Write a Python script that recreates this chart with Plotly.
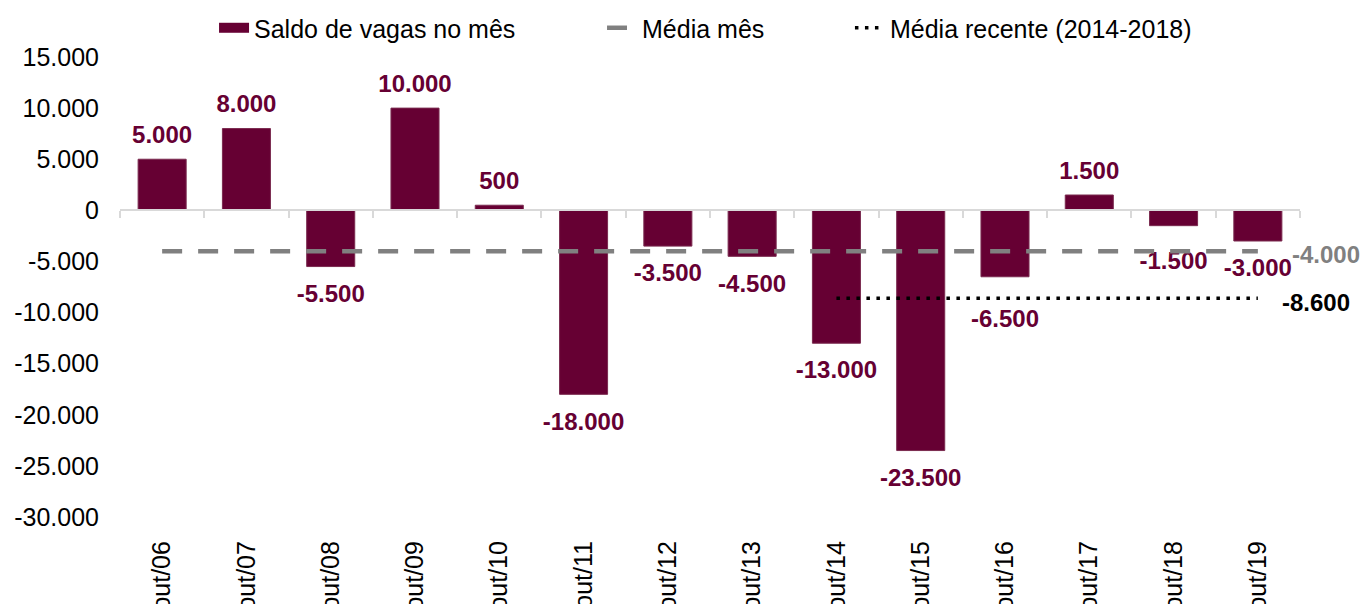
import plotly.graph_objects as go

categorias = ["out/06", "out/07", "out/08", "out/09", "out/10", "out/11", "out/12",
              "out/13", "out/14", "out/15", "out/16", "out/17", "out/18", "out/19"]
saldo = [5000, 8000, -5500, 10000, 500, -18000, -3500, -4500, -13000, -23500,
         -6500, 1500, -1500, -3000]
media_mes = [-4000] * 14
media_recente = [None] * 8 + [-8600] * 6
ytick_vals = [15000, 10000, 5000, 0, -5000, -10000, -15000, -20000, -25000, -30000]
ytick_text = ["15.000", "10.000", "5.000", "0", "-5.000", "-10.000", "-15.000",
              "-20.000", "-25.000", "-30.000"]

BAR = "#660033"
FONT = "Liberation Sans, Arial, sans-serif"

# labels pushed further away from their bar (to clear the average lines)
label_extra_gap = {"out/16": 24, "out/18": 13}
label_sizes = [(15 if v >= 0 else 26) + label_extra_gap.get(c, 0)
               for c, v in zip(categorias, saldo)]

fig = go.Figure()
fig.add_trace(go.Bar(
    x=categorias, y=saldo, name="Saldo de vagas no mês",
    marker=dict(color=BAR, line=dict(color="#7a2a4f", width=1)),
    width=0.57, showlegend=False, hoverinfo="x+y",
))
# data labels
fig.add_trace(go.Scatter(
    x=categorias, y=saldo, mode="markers+text",
    marker=dict(size=label_sizes, opacity=0, color=BAR),
    texttemplate="<b>%{y:,}</b>",
    textposition=["top center" if v >= 0 else "bottom center" for v in saldo],
    textfont=dict(family=FONT, size=24, color=BAR),
    cliponaxis=False, showlegend=False, hoverinfo="skip",
))
# legend swatch for the bars
fig.add_trace(go.Scatter(
    x=[None], y=[None], mode="lines", name="Saldo de vagas no mês",
    line=dict(color=BAR, width=16), legend="legend",
))
fig.add_trace(go.Scatter(
    x=categorias, y=media_mes, name="Média mês", mode="lines",
    line=dict(color="#808080", width=4.5, dash="20px,16px"), legend="legend2",
))
fig.add_trace(go.Scatter(
    x=categorias, y=media_recente, name="Média recente (2014-2018)", mode="lines",
    line=dict(color="#000000", width=3.5, dash="3.5px,6.5px"), legend="legend3",
))

fig.add_annotation(x=categorias[-1], y=media_mes[-1], text="<b>-4.000</b>",
                   showarrow=False, xanchor="left", xshift=32, yshift=-3,
                   font=dict(family=FONT, size=24, color="#808080"))
fig.add_annotation(x=categorias[-1], y=media_recente[-1], text="<b>-8.600</b>",
                   showarrow=False, xanchor="left", xshift=22, yshift=-4,
                   font=dict(family=FONT, size=24, color="#000000"))

leg_common = dict(orientation="h", yanchor="middle", y=1.063, xanchor="left",
                  font=dict(family=FONT, size=25, color="#000000"),
                  bgcolor="rgba(0,0,0,0)")
# page body has an 8px margin: the figure is sized/margined to compensate
fig.update_layout(
    width=1363, height=596,
    margin=dict(l=112, r=71, t=49, b=87, autoexpand=False),
    paper_bgcolor="white", plot_bgcolor="white",
    separators=",.",
    font=dict(family=FONT, size=25, color="#000000"),
    showlegend=True,
    legend=dict(x=0.0797, **leg_common),
    legend2=dict(x=0.4085, **leg_common),
    legend3=dict(x=0.6186, **leg_common),
)
fig.update_yaxes(range=[-30000, 15000], tickvals=ytick_vals, ticktext=ytick_text,
                 showgrid=False, zeroline=False, showline=False,
                 ticks="", ticklabelstandoff=20,
                 tickfont=dict(family=FONT, size=25, color="#000000"))
fig.update_xaxes(type="category", range=[-0.5, 13.5],
                 anchor="free", position=2/3,
                 showline=True, linecolor="#d9d9d9", linewidth=1.5,
                 ticks="outside", tickson="boundaries", ticklen=7, tickcolor="#d9d9d9",
                 tickwidth=1.5,
                 tickangle=-90, ticklabelstandoff=320,
                 showgrid=False, zeroline=False,
                 tickfont=dict(family=FONT, size=25, color="#000000"))

fig.write_html("out.html")
